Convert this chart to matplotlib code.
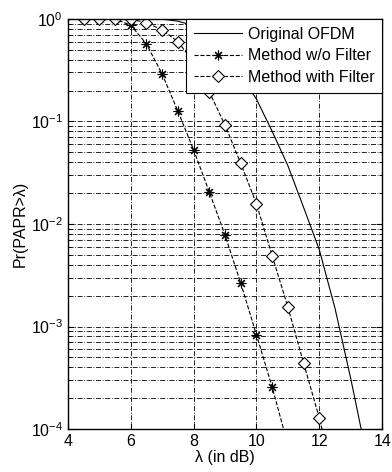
import numpy as np
import matplotlib.pyplot as plt
from matplotlib.ticker import LogLocator, NullFormatter

plt.rcParams['font.family'] = ['Liberation Sans', 'DejaVu Sans']
plt.rcParams['font.size'] = 11.5

# Original OFDM (solid)
x_ofdm = [4, 5, 6, 7, 7.5, 8, 8.5, 9, 9.5, 10, 10.5, 11, 11.5, 12, 12.5, 13, 13.5]
y_ofdm = [1.0, 1.0, 1.0, 0.995, 0.95, 0.86, 0.66, 0.45, 0.28, 0.165, 0.08, 0.037,
          0.0145, 0.0056, 0.0015, 0.00031, 0.000056]

# Method w/o Filter
x_nof = [4.5, 5, 5.5, 6, 6.5, 7, 7.5, 8, 8.5, 9, 9.5, 10, 10.5, 11]
y_nof = [1.0, 1.0, 0.99, 0.87, 0.57, 0.29, 0.126, 0.053, 0.0205, 0.0078,
         0.00265, 0.00083, 0.000257, 0.00007]

# Method with Filter
x_f = [4.5, 5, 5.5, 6, 6.5, 7, 7.5, 8, 8.5, 9, 9.5, 10, 10.5, 11, 11.5, 12, 12.5]
y_f = [1.0, 1.0, 1.0, 0.99, 0.92, 0.78, 0.6, 0.38, 0.194, 0.092, 0.039,
       0.0157, 0.0049, 0.00155, 0.00044, 0.000128, 0.00003]

fig = plt.figure(figsize=(3.92, 4.72), dpi=100)
ax = fig.add_axes([0.173, 0.091, 0.802, 0.869])

ax.semilogy(x_ofdm, y_ofdm, 'k-', lw=0.8, label='Original OFDM')
ax.semilogy(x_nof, y_nof, 'k--', lw=0.8, marker=(8, 2, 0), ms=7, mew=0.8,
            markevery=slice(0, 13), label='Method w/o Filter')
ax.semilogy(x_f, y_f, 'k--', lw=0.8, marker='D', ms=6, mfc='white', mew=0.8,
            markevery=slice(0, 16), label='Method with Filter')

ax.set_xlim(4, 14)
ax.set_ylim(1e-4, 1)
ax.set_xticks([4, 6, 8, 10, 12, 14])
ax.yaxis.set_major_locator(LogLocator(base=10, numticks=10))
ax.yaxis.set_minor_locator(LogLocator(base=10, subs=np.arange(2, 10), numticks=10))
ax.yaxis.set_minor_formatter(NullFormatter())

dashdot = (0, (6, 2, 1, 2))
ax.grid(True, which='major', axis='both', color='k', lw=0.6, linestyle=dashdot)
ax.grid(True, which='minor', axis='y', color='k', lw=0.6, linestyle=dashdot)
ax.set_axisbelow(True)

ax.tick_params(which='both', direction='in', top=True, right=True)
ax.tick_params(which='major', length=4)
ax.tick_params(which='minor', length=2)
for s in ax.spines.values():
    s.set_linewidth(1.0)

ax.set_xlabel('λ (in dB)', labelpad=1)
ax.set_ylabel('Pr(PAPR>λ)', labelpad=2)

leg = ax.legend(loc='upper right', handlelength=3.0, handletextpad=0.35,
                fancybox=False, framealpha=1, edgecolor='k', borderaxespad=0,
                borderpad=0.5, labelspacing=0.4)
leg.get_frame().set_linewidth(0.8)

plt.savefig('out.png', dpi=100)
